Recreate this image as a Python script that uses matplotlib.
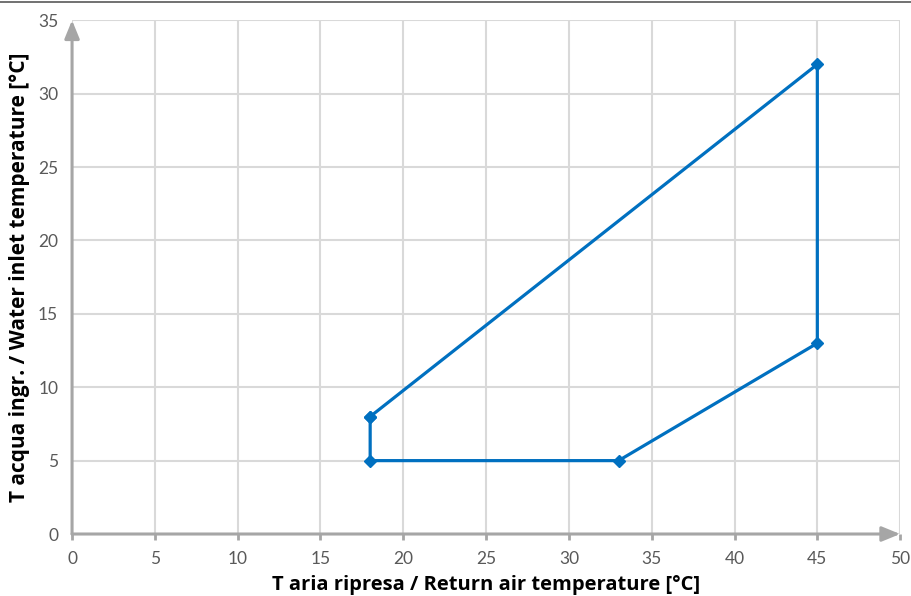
import matplotlib.pyplot as plt
from matplotlib.lines import Line2D

# polygon of the operating envelope
t_air = [18, 45, 45, 33, 18, 18]
t_water = [8, 32, 13, 5, 5, 8]

x_ticks = [0, 5, 10, 15, 20, 25, 30, 35, 40, 45, 50]
y_ticks = [0, 5, 10, 15, 20, 25, 30, 35]

plt.rcParams['font.family'] = ['Lato', 'DejaVu Sans']

fig = plt.figure(figsize=(9.12, 5.96), dpi=100)
ax = fig.add_axes([0.079, 0.104, 0.908, 0.862])

ax.set_xlim(0, 50)
ax.set_ylim(0, 35)
ax.set_xticks(x_ticks)
ax.set_yticks(y_ticks)
ax.grid(True, color='#d9d9d9', linewidth=1.5)
ax.set_axisbelow(True)

for s in ax.spines.values():
    s.set_visible(False)

# grey axes with arrow heads
grey = '#a6a6a6'
ax.annotate('', xy=(50, 0), xytext=(0, 0),
            arrowprops=dict(arrowstyle='-|>,head_length=1.1,head_width=0.45',
                            color=grey, lw=2.2, shrinkA=0, shrinkB=0),
            annotation_clip=False)
ax.annotate('', xy=(0, 35), xytext=(0, 0),
            arrowprops=dict(arrowstyle='-|>,head_length=1.1,head_width=0.45',
                            color=grey, lw=2.2, shrinkA=0, shrinkB=0),
            annotation_clip=False)

ax.plot(t_air, t_water, color='#0070c0', linewidth=2.3, marker='D',
        markersize=6.5, clip_on=False, zorder=5)

ax.tick_params(axis='x', colors=grey, length=4, width=2, direction='out',
               labelcolor='#595959', labelsize=12.5, pad=8)
ax.tick_params(axis='y', length=0, labelcolor='#595959', labelsize=12.5, pad=10)

ax.set_xlabel('T aria ripresa / Return air temperature [°C]', fontsize=14.5,
              fontweight='bold', color='black', labelpad=6,
              family=['Open Sans', 'DejaVu Sans'])
ax.set_ylabel('T acqua ingr. / Water inlet temperature [°C]', fontsize=15,
              fontweight='bold', color='black', labelpad=6,
              family=['Open Sans', 'DejaVu Sans'])

fig.add_artist(Line2D([0, 1], [0.9966, 0.9966], color='#595959',
                      linewidth=1.2, transform=fig.transFigure))

fig.savefig('out.png', dpi=100)
